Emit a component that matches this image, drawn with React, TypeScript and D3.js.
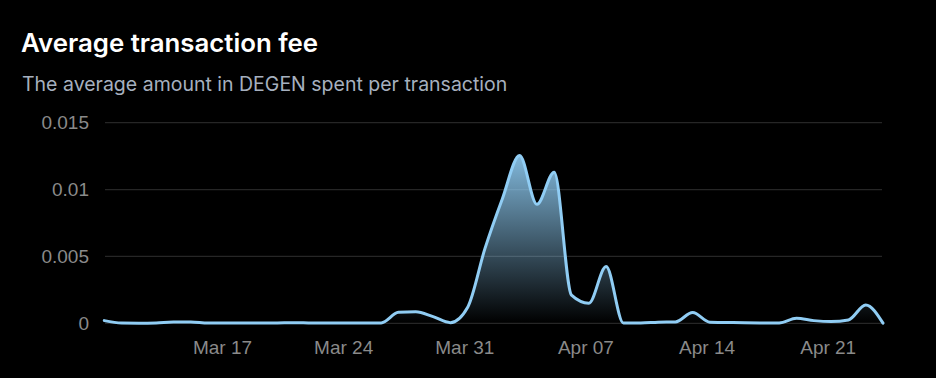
import React, { useEffect } from "react";
import * as d3 from "d3";

const title = "Average transaction fee";
const subtitle = "The average amount in DEGEN spent per transaction";

// daily points starting Mar 10, 2024
const startDate = new Date(Date.UTC(2024, 2, 10, 4));
const feeValues = [
  0.0002, 0.00002, 0.00001, 0.00003, 0.0001, 0.0001, 0.00002, 0.00002, 0.00002, 0.00002,
  0.00003, 0.00005, 0.00002, 0.00002, 0.00003, 0.00003, 0.00003, 0.00082, 0.00087, 0.0005,
  0.00005, 0.0012, 0.0056, 0.0093, 0.01255, 0.0089, 0.0113, 0.0021, 0.0015, 0.00425,
  0.00002, 0.00002, 0.00008, 0.0001, 0.0008, 0.00008, 0.00006, 0.00004, 0.00003, 0.00002,
  0.00037, 0.0002, 0.00013, 0.00025, 0.00137, 0.00001,
];
const yTicks = [0, 0.005, 0.01, 0.015];
const yTickLabels = ["0", "0.005", "0.01", "0.015"];

const W = 936;
const H = 378;

export default function App() {
  useEffect(() => {
    document.body.style.margin = "0";
    document.body.style.background = "#000";
  }, []);

  const data = feeValues.map((v, i) => ({ date: d3.utcDay.offset(startDate, i), value: v }));
  const x = d3
    .scaleUtc()
    .domain(d3.extent(data, (d) => d.date) as [Date, Date])
    .range([104.3, 883]);
  const y = d3.scaleLinear().domain([0, 0.015]).range([323.3, 122.7]);

  const line = d3
    .line<{ date: Date; value: number }>()
    .x((d) => x(d.date))
    .y((d) => y(d.value))
    .curve(d3.curveMonotoneX);
  const area = d3
    .area<{ date: Date; value: number }>()
    .x((d) => x(d.date))
    .y0(y(0))
    .y1((d) => y(d.value))
    .curve(d3.curveMonotoneX);

  const xTicks = x.ticks(d3.utcWeek.every(1)!);
  const fmt = d3.utcFormat("%b %d");
  const maxV = d3.max(feeValues)!;

  return (
    <svg width={W} height={H} style={{ display: "block", background: "#000" }}>
      <rect x={0} y={0} width={W} height={H} fill="#000" />
      <text x={21} y={52} fill="#ffffff" fontFamily="Inter, sans-serif" fontWeight={600} fontSize={25.8}>
        {title}
      </text>
      <text x={22} y={90.5} fill="#a6b0bf" fontFamily="Inter, sans-serif" fontWeight={400} fontSize={19.5}>
        {subtitle}
      </text>
      <defs>
        <linearGradient id="fillGrad" gradientUnits="userSpaceOnUse" x1={0} x2={0} y1={y(maxV)} y2={y(0)}>
          <stop offset="0%" stopColor="#90CDF4" stopOpacity={0.9} />
          <stop offset="100%" stopColor="#90CDF4" stopOpacity={0} />
        </linearGradient>
      </defs>
      <g>
        {yTicks.map((t, i) => (
          <g key={t}>
            <line x1={105} x2={882} y1={y(t)} y2={y(t)} stroke="#262626" strokeWidth={1.2} />
            <text
              x={89}
              y={y(t)}
              textAnchor="end"
              dominantBaseline="central"
              fill="#8a8a8a"
              fontFamily="'Liberation Sans', Arial, sans-serif"
              fontSize={19}
            >
              {yTickLabels[i]}
            </text>
          </g>
        ))}
        {xTicks.map((t) => (
          <text
            key={t.getTime()}
            x={x(t)}
            y={354}
            textAnchor="middle"
            fill="#8a8a8a"
            fontFamily="'Liberation Sans', Arial, sans-serif"
            fontSize={19}
          >
            {fmt(t)}
          </text>
        ))}
      </g>
      <path d={area(data)!} fill="url(#fillGrad)" />
      <path d={line(data)!} fill="none" stroke="#90CDF4" strokeWidth={3} strokeLinejoin="round" strokeLinecap="round" />
    </svg>
  );
}
